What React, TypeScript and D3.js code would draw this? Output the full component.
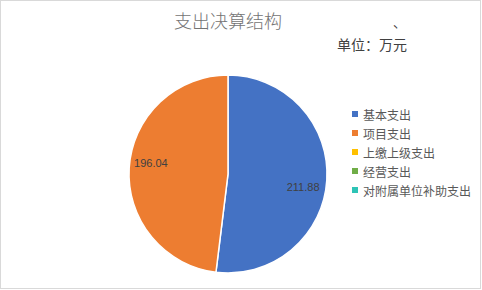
import React from "react";
import * as d3 from "d3";

const categories = ["基本支出", "项目支出", "上缴上级支出", "经营支出", "对附属单位补助支出"];
const values = [211.88, 196.04, 0, 0, 0];
const colors = ["#4472C4", "#ED7D31", "#FFC000", "#70AD47", "#2EC4B6"];
const title = "支出决算结构";
const unitLabel = "单位：万元";
const labelDy = [8, -6, 0, 0, 0];

export default function App() {
  const W = 482, H = 290;
  const cx = 228, cy = 174, r = 99;
  const pie = d3.pie<number>().sort(null).value((d) => d)(values);
  const arc = d3.arc<d3.PieArcDatum<number>>().innerRadius(0).outerRadius(r);
  const labelArc = d3.arc<d3.PieArcDatum<number>>().innerRadius(r * 0.77).outerRadius(r * 0.77);
  const legendY = d3.scaleLinear().domain([0, 1]).range([114, 133]);
  return (
    <svg width={W} height={H} style={{ position: "absolute", left: 0, top: 0, fontFamily: "'Noto Sans CJK SC', sans-serif" }}>
      <rect x={0.5} y={0.5} width={W - 2} height={H - 2} fill="#fff" stroke="#d9d9d9" />
      <text x={228} y={28} textAnchor="middle" fontSize={18} fill="#737373" fontWeight={300}>{title}</text>
      <text x={393} y={27} fontSize={13} fill="#404040">、</text>
      <text x={337} y={50} fontSize={14} fill="#404040">{unitLabel}</text>
      <g transform={`translate(${cx},${cy})`}>
        {pie.map((d, i) => (
          d.value > 0 ? <path key={i} d={arc(d) || ""} fill={colors[i]} stroke="#fff" strokeWidth={1.5} /> : null
        ))}
        {pie.map((d, i) => {
          if (d.value <= 0) return null;
          const [lx, ly] = labelArc.centroid(d);
          return (
            <text key={"l" + i} x={lx - 1} y={ly + labelDy[i]} textAnchor="middle" dominantBaseline="central" fontSize={11}
              fontFamily="'Liberation Sans', sans-serif" fill="#404040">{d.value.toFixed(2)}</text>
          );
        })}
      </g>
      {categories.map((c, i) => (
        <g key={c}>
          <rect x={352} y={legendY(i) - 3} width={6} height={6} fill={colors[i]} />
          <text x={363} y={legendY(i)} dominantBaseline="central" fontSize={12} fill="#595959">{c}</text>
        </g>
      ))}
    </svg>
  );
}
